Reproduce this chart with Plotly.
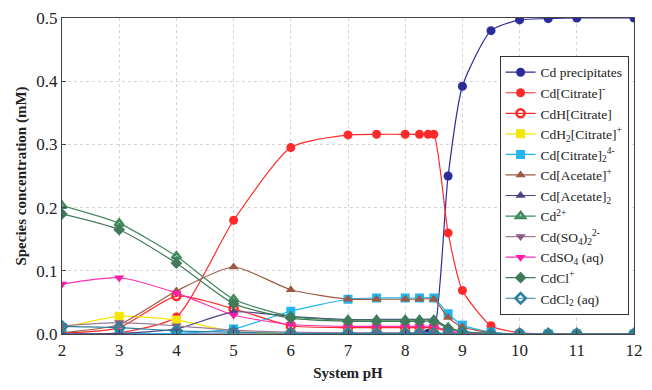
import plotly.graph_objects as go

# pH grid
ph = [2, 3, 4, 5, 6, 7, 7.5, 8, 8.25, 8.5, 8.75, 9, 9.5, 10, 10.5, 11, 12]
ph_fine = [2, 3, 4, 5, 6, 7, 7.5, 8, 8.25, 8.4, 8.5, 8.75, 9, 9.5, 10, 10.5, 11, 12]

cd_precip = [0, 0, 0, 0, 0, 0, 0, 0, 0, 0.001, 0.003, 0.25, 0.392, 0.48, 0.497, 0.499, 0.5, 0.5]
cd_citrate = [0, 0.002, 0.027, 0.18, 0.295, 0.315, 0.316, 0.316, 0.316, 0.316, 0.316, 0.16, 0.069, 0.013, 0.002, 0.0005, 0, 0]
cdh_citrate = [0.001, 0.01, 0.06, 0.04, 0.013, 0.01, 0.01, 0.01, 0.01, 0.01, 0.004, 0.001, 0, 0, 0, 0, 0]
cdh2_citrate = [0.01, 0.028, 0.022, 0.004, 0.0005, 0, 0, 0, 0, 0, 0, 0, 0, 0, 0, 0, 0]
cd_citrate2 = [0, 0, 0.001, 0.008, 0.036, 0.055, 0.057, 0.057, 0.057, 0.057, 0.032, 0.014, 0.003, 0, 0, 0, 0]
cd_acetate = [0.002, 0.015, 0.068, 0.106, 0.07, 0.055, 0.055, 0.055, 0.055, 0.055, 0.026, 0.011, 0.002, 0, 0, 0, 0]
cd_acetate2 = [0, 0.001, 0.008, 0.035, 0.028, 0.023, 0.023, 0.023, 0.023, 0.023, 0.01, 0.004, 0.001, 0, 0, 0, 0]
cd2 = [0.203, 0.175, 0.123, 0.055, 0.028, 0.022, 0.022, 0.022, 0.022, 0.022, 0.01, 0.004, 0.001, 0, 0, 0, 0]
cd_so4_2 = [0.013, 0.018, 0.013, 0.006, 0.003, 0.002, 0.002, 0.002, 0.002, 0.002, 0.001, 0, 0, 0, 0, 0, 0]
cdso4 = [0.079, 0.089, 0.065, 0.03, 0.015, 0.012, 0.012, 0.012, 0.012, 0.012, 0.005, 0.002, 0, 0, 0, 0, 0]
cdcl = [0.19, 0.165, 0.112, 0.048, 0.025, 0.02, 0.02, 0.02, 0.02, 0.02, 0.009, 0.004, 0.001, 0, 0, 0, 0]
cdcl2 = [0.012, 0.01, 0.005, 0.003, 0.001, 0.001, 0.001, 0.001, 0.001, 0.001, 0, 0, 0, 0, 0, 0, 0]

x_ticks = [2, 3, 4, 5, 6, 7, 8, 9, 10, 11, 12]
y_ticks = [0.0, 0.1, 0.2, 0.3, 0.4, 0.5]

series = [
    ("Cd precipitates", ph_fine, cd_precip, "#2b2b9a", "circle", "#2b2b9a"),
    ("Cd[Citrate]<sup>-</sup>", ph_fine, cd_citrate, "#ff2a2a", "circle", "#ff2a2a"),
    ("CdH[Citrate]", ph, cdh_citrate, "#ff2a2a", "circle-open", None),
    ("CdH<sub>2</sub>[Citrate]<sup>+</sup>", ph, cdh2_citrate, "#f5e600", "square", "#f5e600"),
    ("Cd[Citrate]<sub>2</sub><sup>4-</sup>", ph, cd_citrate2, "#21b6f0", "square", "#21b6f0"),
    ("Cd[Acetate]<sup>+</sup>", ph, cd_acetate, "#9b5a43", "triangle-up", "#9b5a43"),
    ("Cd[Acetate]<sub>2</sub>", ph, cd_acetate2, "#4a4384", "triangle-up", "#4a4384"),
    ("Cd<sup>2+</sup>", ph, cd2, "#3f8a5c", "triangle-up-open", None),
    ("Cd(SO<sub>4</sub>)<sub>2</sub><sup>2-</sup>", ph, cd_so4_2, "#a07a99", "triangle-down", "#8b5a80"),
    ("CdSO<sub>4</sub> (aq)", ph, cdso4, "#ff2fb0", "triangle-down", "#ff1aa8"),
    ("CdCl<sup>+</sup>", ph, cdcl, "#3f7a5a", "diamond", "#3f7a5a"),
    ("CdCl<sub>2</sub> (aq)", ph, cdcl2, "#2f7f9f", "diamond-open", None),
]

SERIF = "Times New Roman, Liberation Serif, serif"

fig = go.Figure()
for name, xs, ys, col, sym, mcol in series:
    if sym.endswith("-open"):
        marker = dict(symbol=sym, size=8, color=col, line=dict(color=col, width=2.5))
    else:
        marker = dict(symbol=sym, size=9, color=mcol, line=dict(width=0))
    fig.add_trace(go.Scatter(
        x=xs, y=ys, name=name, mode="lines+markers",
        line=dict(color=col, width=1.2, shape="spline", smoothing=0.6),
        marker=marker,
    ))

fig.update_layout(
    width=652, height=390,
    margin=dict(l=62, r=9, t=17, b=56),
    paper_bgcolor="white", plot_bgcolor="white",
    font=dict(family=SERIF, size=16, color="#222"),
    showlegend=True,
    legend=dict(
        x=0.765, y=0.88, xanchor="left", yanchor="top",
        bgcolor="white", bordercolor="#333", borderwidth=1,
        font=dict(family=SERIF, size=13.5, color="#222"),
        tracegroupgap=0, itemwidth=30,
    ),
)
fig.update_xaxes(
    range=[2, 12], tickvals=x_ticks, ticks="inside", ticklen=4,
    tickfont=dict(family=SERIF, size=17),
    showline=True, linecolor="#444", linewidth=1.2, mirror=True,
    showgrid=True, gridcolor="#d5d5d5", griddash="dot", zeroline=False,
    title=dict(text="<b>System pH</b>", standoff=8,
               font=dict(family=SERIF, size=15)),
)
fig.update_yaxes(
    range=[0, 0.5], tickvals=y_ticks, tickformat=".1f", ticks="inside", ticklen=4,
    tickfont=dict(family=SERIF, size=17),
    showline=True, linecolor="#444", linewidth=1.2, mirror=True,
    showgrid=True, gridcolor="#d5d5d5", griddash="dot", zeroline=False,
    title=dict(text="<b>Species concentration (mM)</b>", standoff=6,
               font=dict(family=SERIF, size=15)),
)

fig.write_html("out.html", config={"displayModeBar": False},
               post_script="document.body.style.margin='0';document.body.style.padding='0';")
